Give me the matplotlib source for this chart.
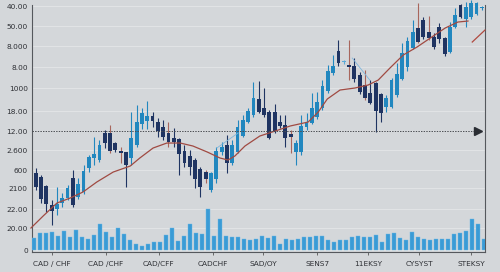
import numpy as np
import matplotlib.pyplot as plt

# ---------------- data ----------------
opens = [77, 73, 64, 45, 41, 47, 52, 72, 53, 58,
         82, 92, 90, 117, 117, 107, 99, 98, 92, 105,
         126, 129, 134, 128, 123, 117, 112, 111, 99, 94,
         90, 81, 78, 60, 71, 98, 105, 87, 98, 114,
         128, 135, 151, 142, 138, 138, 128, 125, 116, 98,
         98, 123, 127, 133, 142, 159, 177, 199, 188, 185,
         184, 175, 165, 157, 167, 156, 143, 143, 155, 171,
         183, 202, 222, 230, 218, 213, 223, 212, 198, 223,
         245, 231, 233, 236, 242]
closes = [63, 51, 46, 39, 46, 52, 62, 45, 66, 79,
          93, 96, 105, 107, 99, 100, 97, 85, 112, 128,
          137, 134, 129, 119, 113, 108, 108, 96, 87, 83,
          71, 63, 71, 77, 99, 103, 87, 105, 123, 130,
          139, 152, 138, 135, 112, 119, 124, 112, 113, 107,
          124, 127, 142, 148, 164, 179, 184, 187, 189, 183,
          171, 158, 152, 147, 139, 137, 152, 170, 176, 197,
          209, 218, 208, 213, 212, 203, 211, 196, 223, 235,
          233, 243, 247, 247, 242]
highs = [82, 75, 65, 50, 63, 57, 65, 80, 72, 85,
         95, 113, 110, 120, 125, 108, 103, 98, 138, 145,
         142, 149, 138, 132, 130, 128, 122, 112, 105, 100,
         92, 83, 80, 78, 103, 108, 115, 110, 130, 135,
         142, 168, 169, 162, 140, 146, 135, 135, 120, 110,
         135, 137, 157, 158, 170, 185, 195, 210, 190, 210,
         192, 178, 180, 170, 168, 157, 155, 172, 187, 207,
         213, 230, 247, 233, 234, 217, 227, 213, 228, 242,
         246, 248, 250, 248, 244]
lows = [60, 47, 38, 25, 35, 43, 50, 43, 51, 56,
        78, 85, 88, 102, 97, 98, 87, 63, 85, 103,
        121, 121, 123, 113, 110, 103, 103, 75, 83, 75,
        62, 53, 67, 58, 67, 95, 77, 85, 97, 113,
        127, 133, 137, 133, 111, 117, 122, 103, 97, 85,
        95, 120, 126, 131, 140, 157, 175, 184, 186, 170,
        168, 156, 150, 146, 118, 128, 138, 142, 153, 170,
        179, 201, 207, 211, 210, 201, 207, 194, 197, 222,
        232, 223, 231, 235, 240]
red_wicks = [14, 16, 25, 32, 48, 59, 62, 72, 74]
doji_light = [58]

volume = [12, 17, 17, 18, 14, 19, 13, 20, 13, 11, 15, 26, 18, 13, 22, 16, 10, 6, 4,
          6, 8, 8, 15, 22, 9, 14, 26, 17, 16, 41, 14, 31, 14, 13, 13, 11, 10, 11,
          14, 12, 14, 6, 11, 10, 11, 13, 13, 14, 14, 10, 8, 10, 10, 13, 14, 13, 13,
          15, 8, 16, 17, 12, 10, 18, 13, 11, 10, 11, 11, 11, 16, 17, 19, 31, 26, 11]

ma_x = [-0.9, 1.4, 4.0, 6.5, 8.9, 11.5, 14.6, 17.8, 19.6, 22.1, 24.7, 27.2, 29.6,
        32.3, 34.7, 36.2, 37.5, 39.4, 42.2, 45.1, 47.9, 51.3, 53.2, 54.9, 57.3,
        60.1, 62.6, 64.5, 66.7, 69.2, 71.8, 74.3, 77.1, 79.5, 81.4]
ma_y = [22, 34, 47, 52, 58, 68, 78, 84, 92, 102, 107, 107, 104,
        98, 92, 90, 94, 104, 114, 119, 124, 128, 138, 151, 160,
        162, 165, 170, 182, 195, 203, 212, 222, 228, 229]
ma2_x = [82.2, 84.6]
ma2_y = [208, 220]
trend_lines = [([34.1, 38.1], [102, 117]), ([59.6, 62.9], [192, 170])]

ytick_vals = [244, 224, 204, 183, 162, 139, 119, 100, 80, 62, 41, 22, 0]
ytick_labels = ['40.00', '50.00', '8.000', '8.00', '1000', '18.00', '12.00',
                '2.600', '600', '2100', '22.00', '20.00', '0']
xtick_vals = [3.0, 13.2, 23.2, 33.4, 42.8, 53.0, 62.6, 72.2, 82.0]
xtick_labels = ['CAD / CHF', 'CAD /CHF', 'CAD/CFF', 'CADCHF', 'SAD/OY',
                'SENS7', '11EKSY', 'CYSYST', 'STEKSY']
level = 119

# ---------------- styles ----------------
bg = '#d4d7da'
up_col = '#2187bf'
dn_col = '#1f3462'
red_col = '#a8665c'
vol_col = '#3a9bd6'

fig = plt.figure(figsize=(5, 2.72), dpi=100, facecolor=bg)
ax = fig.add_axes([0.064, 0.0735, 0.906, 0.908])
ax.set_facecolor(bg)

for yv in ytick_vals:
    ax.axhline(yv, color='#e2e4e6', lw=0.7, zorder=0)

# volume on its own x scale
axv = ax.twiny()
axv.set_xlim(-0.33, 75.17)
axv.bar(np.arange(len(volume)), volume, width=0.78, color=vol_col,
        edgecolor='#6bb8e4', lw=0.3, zorder=2)
axv.set_xticks([])
for s in axv.spines.values():
    s.set_visible(False)

# candles
x = np.arange(len(opens))
for i in x:
    o, c, h, l = opens[i], closes[i], highs[i], lows[i]
    col = up_col if c >= o else dn_col
    if i in doji_light:
        col = '#5aa9d8'
    wcol = red_col if i in red_wicks else col
    ax.vlines(i, l, h, color=wcol, lw=0.8, zorder=3, clip_on=False)
    ax.bar(i, max(abs(c - o), 1.5), bottom=min(o, c), width=0.72,
           color=col, zorder=4, clip_on=False)

ax.plot(ma_x, ma_y, color='#a04a42', lw=0.9, zorder=5, clip_on=False)
ax.plot(ma2_x, ma2_y, color='#b04a40', lw=0.9, zorder=5, clip_on=False)
for tx, ty in trend_lines:
    ax.plot(tx, ty, color='#7fb6dc', lw=0.6, zorder=5)

ax.axhline(level, xmax=0.985, color='#4a4d52', lw=0.7, ls=(0, (1.5, 1.2)), zorder=6)
ax.plot([0.985], [level], marker='>', ms=6, color='#2a2d33',
        transform=ax.get_yaxis_transform(), clip_on=False, zorder=7)

ax.set_xlim(-0.7, 84.6)
ax.set_ylim(-2, 245)
ax.set_yticks(ytick_vals)
ax.set_yticklabels(ytick_labels)
ax.set_xticks(xtick_vals)
ax.set_xticklabels(xtick_labels)
ax.tick_params(axis='y', length=0, labelsize=5.3, labelcolor='#2e3035', pad=3)
ax.tick_params(axis='x', length=2.5, width=0.6, color='#555', labelsize=5.3,
               labelcolor='#2e3035', pad=4)
ax.spines['top'].set_visible(False)
for side in ['left', 'right', 'bottom']:
    ax.spines[side].set_color('#55585d')
    ax.spines[side].set_linewidth(0.8)

fig.savefig('out.png', dpi=100, facecolor=bg)
